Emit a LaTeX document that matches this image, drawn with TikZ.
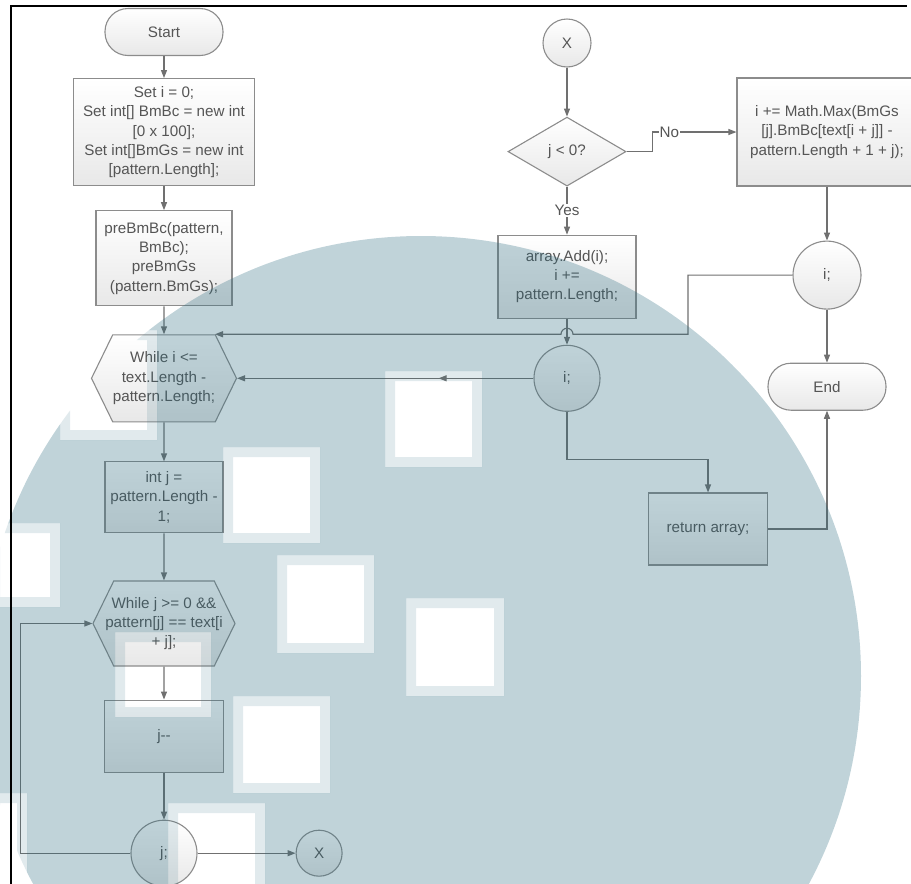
\documentclass[tikz,border=0pt]{standalone}
\usepackage{fontspec}
\setmainfont{Liberation Sans}
\usetikzlibrary{arrows.meta,positioning,calc,shapes.geometric,shapes.symbols,decorations.markings}
\definecolor{ln}{RGB}{112,112,112}
\definecolor{bd}{RGB}{140,140,140}
\definecolor{tx}{RGB}{85,85,85}
\definecolor{nf}{RGB}{232,232,232}
\definecolor{wm}{RGB}{45,108,128}
\newcommand{\wmsquares}{385/371/482/467, 223/447/320/543, 277/555/374/653, 406/598/504/696, 233/696/330/793, 115/632/211/717, 168/803/265/894, 60/330/157/440, -10/523/60/607, -10/793/27/894}
\tikzset{
  base/.style={draw=bd,line width=1.1pt,top color=white,bottom color=nf,text=tx,font=\fontsize{15.2}{19.3}\selectfont,align=center,inner sep=2pt},
  term/.style={base,rectangle,rounded corners=23pt,minimum width=118pt,minimum height=47pt},
  proc/.style 2 args={base,rectangle,minimum width=#1,minimum height=#2},
  hexloop/.style 2 args={base,signal,signal to=east and west,signal pointer angle=128,inner xsep=-2pt,minimum width=#1,minimum height=#2},
  conn/.style={base,circle,minimum size=#1},
  cond/.style={base,diamond,minimum width=118pt,minimum height=69pt},
  lbl/.style={fill=white,text=tx,font=\fontsize{15.2}{19.3}\selectfont,inner sep=1pt},
  flow/.style={draw=ln,line width=1.1pt,-{Triangle[length=8pt,width=6pt]}},
  midtip/.style={postaction={decorate},decoration={markings,mark=at position .32 with {\arrow{Triangle[length=8pt,width=6pt]}}}},
}

\begin{document}
\begin{tikzpicture}[x=1pt,y=-1pt]
  \useasboundingbox (0,0) rectangle (911,884);
  % left column
  \node[term] (start) at (164,32) {Start};
  \node[proc={181pt}{107pt},below=22pt of start] (init) {Set i = 0;\\Set int[] BmBc = new int\\{[}0 x 100];\\Set int[]BmGs = new int\\{[}pattern.Length];};
  \node[proc={136pt}{95pt},below=24pt of init] (prep) {preBmBc(pattern,\\BmBc);\\preBmGs\\(pattern.BmGs);};
  \node[hexloop={145pt}{87pt},below=28pt of prep] (whilei) {While i <=\\text.Length -\\pattern.Length;};
  \node[proc={118pt}{71pt},below=39pt of whilei] (setj) {int j =\\pattern.Length -\\1;};
  \node[hexloop={142pt}{85pt},inner xsep=-12pt,below=47pt of setj] (whilej) {While j >= 0 \&\&\\pattern[j] == text[i\\+ j];};
  \node[proc={119pt}{72pt},below=33pt of whilej] (jdec) {j-{}-};
  \node[conn=66pt,below=47pt of jdec] (jcon) {j;};
  \node[conn=46pt,right=98pt of jcon] (xout) {X};
  % right part
  \node[conn=48pt] (xin) at (567,43) {X};
  \node[cond,below=49pt of xin] (test) {j < 0?};
  \node[proc={138pt}{83pt},below=48pt of test] (found) {array.Add(i);\\i +=\\pattern.Length;};
  \node[conn=66pt,below=26pt of found] (midi) {i;};
  \node[proc={119pt}{72pt}] (ret) at (708,529) {return array;};
  \node[proc={180pt}{108pt}] (shift) at (827,132) {i += Math.Max(BmGs\\{[}j].BmBc[text[i + j]] -\\pattern.Length + 1 + j);};
  \node[conn=68pt,below=54pt of shift] (endi) {i;};
  \node[term,below=53pt of endi] (finish) {End};

  \coordinate (loopL) at ($(whilej.west)+(-72,0)$);
  \coordinate (wcorner) at ($(whilei.north)+(51,0)$);
  \coordinate (jog) at ($(whilei.north)+(524,0)$);
  \coordinate (hop) at (found.south |- jog);

  \draw[flow] (start) -- (init);
  \draw[flow] (init) -- (prep);
  \draw[flow] (prep) -- (whilei);
  \draw[flow] (whilei) -- (setj);
  \draw[flow] (setj) -- (whilej);
  \draw[flow] (whilej) -- (jdec);
  \draw[flow] (jdec) -- (jcon);
  \draw[flow] (jcon) -- (xout);
  \draw[flow] (jcon.west) -| (loopL) -- (whilej.west);
  \draw[flow] (xin) -- (test);
  \draw[flow] (test) -- node[lbl]{Yes} (found);
  \draw[flow] (test.east) -- ++(26,0) |- node[lbl,pos=.6]{No} (shift.west);
  \draw[flow] (shift) -- (endi);
  \draw[flow] (endi) -- (finish);
  \draw[flow] (endi.west) -| (jog) -- ($(hop)+(6,0)$) arc[start angle=0,end angle=180,radius=6pt] -- (wcorner);
  \draw[flow] (found) -- (midi);
  \draw[flow,midtip] (midi.west) -- (whilei.east);
  \draw[flow] (midi.south) -- ++(0,48) -| (ret.north);
  \draw[flow] (ret.east) -| (finish.south);

  % watermark
  \begin{scope}
    \clip (421,676) circle[radius=440pt];
    \fill[wm,fill opacity=.3,even odd rule] (-20,0) rectangle (931,900)
      foreach \xa/\ya/\xb/\yb in \wmsquares {(\xa,\ya) rectangle (\xb,\yb)};
    \foreach \xa/\ya/\xb/\yb in \wmsquares
      \fill[wm,fill opacity=.14,even odd rule] (\xa,\ya) rectangle (\xb,\yb) (\xa+10,\ya+10) rectangle (\xb-10,\yb-10);
  \end{scope}
  \draw[line width=1.4pt] (11,884) -- (11,6) -- (907,6);
\end{tikzpicture}
\end{document}
